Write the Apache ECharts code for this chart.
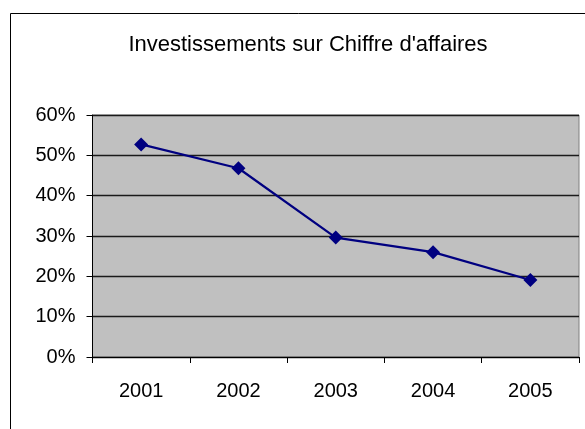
<!DOCTYPE html>
<html>
<head>
<meta charset="utf-8">
<script src="https://cdn.jsdelivr.net/npm/echarts@6/dist/echarts.min.js"></script>
<style>
  html, body { margin: 0; padding: 0; background: #ffffff; }
  #chart { width: 585px; height: 429px; }
</style>
</head>
<body>
<div id="chart"></div>
<script>
// Investissements / Chiffre d'affaires, en %
const years = ['2001', '2002', '2003', '2004', '2005'];
const ratios = [52.7, 46.8, 29.6, 26.0, 19.1];
const yTicks = [0, 10, 20, 30, 40, 50, 60];

const chart = echarts.init(document.getElementById('chart'));
const font = '"Liberation Sans", Arial, sans-serif';

chart.setOption({
  backgroundColor: '#ffffff',
  animation: false,
  title: {
    text: "Investissements sur Chiffre d'affaires",
    left: 303,
    textAlign: 'center',
    top: 29,
    textStyle: { fontFamily: font, fontSize: 22, fontWeight: 'normal', color: '#000000' }
  },
  graphic: [{
    // chart frame, runs off the right and bottom edges
    type: 'rect',
    shape: { x: 10.5, y: 13.5, width: 800, height: 600 },
    style: { fill: 'none', stroke: '#000000', lineWidth: 1 },
    z: 0
  }],
  grid: {
    left: 92.5, top: 115, width: 486.5, height: 242,
    show: true,
    backgroundColor: '#c0c0c0',
    borderColor: '#808080',
    borderWidth: 1
  },
  xAxis: {
    type: 'category',
    data: years,
    boundaryGap: true,
    axisLine: { lineStyle: { color: '#000000', width: 1 } },
    axisTick: { show: true, length: 6, lineStyle: { color: '#000000' } },
    axisLabel: { fontFamily: font, fontSize: 20, color: '#000000', margin: 24 }
  },
  yAxis: {
    type: 'value',
    min: 0, max: 60, interval: 10,
    axisLine: { show: true, lineStyle: { color: '#000000', width: 1 } },
    axisTick: { show: true, length: 6, lineStyle: { color: '#000000' } },
    axisLabel: {
      fontFamily: font, fontSize: 20, color: '#000000', margin: 17,
      formatter: v => yTicks.includes(v) ? v + '%' : ''
    },
    splitLine: { show: true, lineStyle: { color: '#1a1a1a', width: 1.3 } }
  },
  series: [{
    type: 'line',
    data: ratios,
    symbol: 'diamond',
    symbolSize: 14,
    lineStyle: { color: '#000080', width: 2.2 },
    itemStyle: { color: '#000080' }
  }]
});
</script>
</body>
</html>
